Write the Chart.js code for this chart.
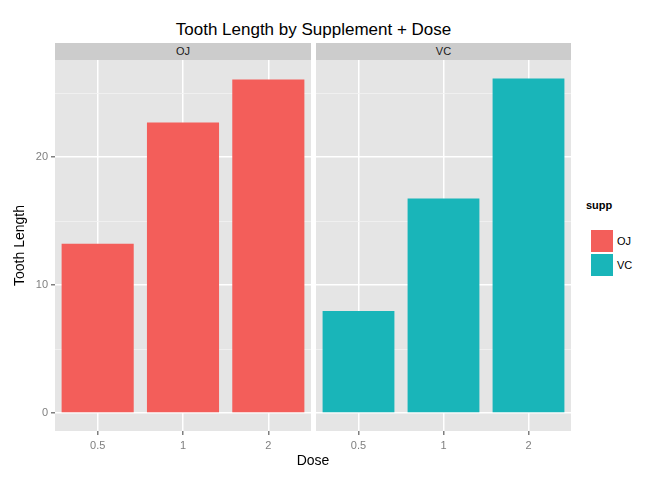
<!DOCTYPE html>
<html><head><meta charset="utf-8">
<script src="https://cdn.jsdelivr.net/npm/chart.js@4"></script>
<style>
body{margin:0;width:672px;height:480px;background:#fff;font-family:"Liberation Sans",Arial,sans-serif;position:relative;overflow:hidden}
.abs{position:absolute}
.strip{background:#ccc;height:17px;top:43px;font-size:11px;color:#1a1a1a;text-align:center;line-height:17px}
.key{width:22px;height:22px;left:591px}
</style></head><body>
<div class="abs" style="top:20px;left:0;width:627px;text-align:center;font-size:17px">Tooth Length by Supplement + Dose</div>
<div class="abs strip" style="left:55px;width:256px">OJ</div>
<div class="abs strip" style="left:316px;width:255px">VC</div>
<div class="abs" style="left:0;top:0"><canvas id="c1"></canvas></div>
<div class="abs" style="left:316px;top:0"><canvas id="c2"></canvas></div>
<div class="abs" style="top:452px;left:55px;width:516px;text-align:center;font-size:14px">Dose</div>
<div class="abs" style="top:199px;left:586px;font-size:11px;font-weight:bold">supp</div>
<div class="abs key" style="top:230px;background:#F35E5A"></div>
<div class="abs key" style="top:254px;background:#19B5B9"></div>
<div class="abs" style="top:235px;left:617px;font-size:11px">OJ</div>
<div class="abs" style="top:259px;left:617px;font-size:11px">VC</div>
<script>
const doses = ['0.5', '1', '2'];
const ojLen = [13.23, 22.70, 26.06];
const vcLen = [7.98, 16.77, 26.14];
const yTicks = [0, 5, 10, 15, 20, 25];

const panelBg = {
  id: 'panelBg',
  beforeDraw(chart) {
    const a = chart.chartArea, ctx = chart.ctx;
    ctx.save(); ctx.fillStyle = '#E5E5E5';
    ctx.fillRect(a.left, a.top, a.right - a.left, a.bottom - a.top);
    ctx.restore();
  }
};

function makePanel(id, vals, color, withAxis, w) {
  const cv = document.getElementById(id);
  cv.style.width = w + 'px'; cv.style.height = '480px';
  cv.width = w; cv.height = 480;
  new Chart(cv, {
    type: 'bar',
    data: { labels: doses, datasets: [{ data: vals, backgroundColor: color, barPercentage: 0.845, categoryPercentage: 1 }] },
    plugins: [panelBg],
    options: {
      responsive: false, animation: false,
      layout: { padding: { top: 60, right: 0, bottom: 0, left: withAxis ? 12 : 0 } },
      plugins: { legend: { display: false }, tooltip: { enabled: false } },
      scales: {
        x: {
          afterFit: s => { s.height = 49; },
          ticks: { color: '#7f7f7f', font: { size: 11 }, padding: 4 },
          grid: { offset: false, color: '#fff', lineWidth: 1.5, tickColor: '#7f7f7f', tickLength: 4 },
          border: { display: false }
        },
        y: {
          min: -1.4, max: 27.58,
          afterBuildTicks: s => { s.ticks = yTicks.map(v => ({ value: v })); },
          afterFit: s => { s.width = withAxis ? 43 : 0; },
          title: { display: withAxis, text: 'Tooth Length', font: { size: 14 }, color: '#000', padding: 0 },
          ticks: { display: withAxis, callback: v => v % 10 === 0 ? v : '', color: '#7f7f7f', font: { size: 11 }, padding: 3 },
          grid: {
            color: c => c.tick.value % 10 === 0 ? '#fff' : '#F2F2F2',
            lineWidth: c => c.tick.value % 10 === 0 ? 1.5 : 0.8,
            drawTicks: withAxis,
            tickColor: c => c.tick.value % 10 === 0 ? '#7f7f7f' : 'rgba(0,0,0,0)', tickLength: 4
          },
          border: { display: false }
        }
      }
    }
  });
}
makePanel('c1', ojLen, '#F35E5A', true, 311);
makePanel('c2', vcLen, '#19B5B9', false, 255);
</script>
</body></html>
